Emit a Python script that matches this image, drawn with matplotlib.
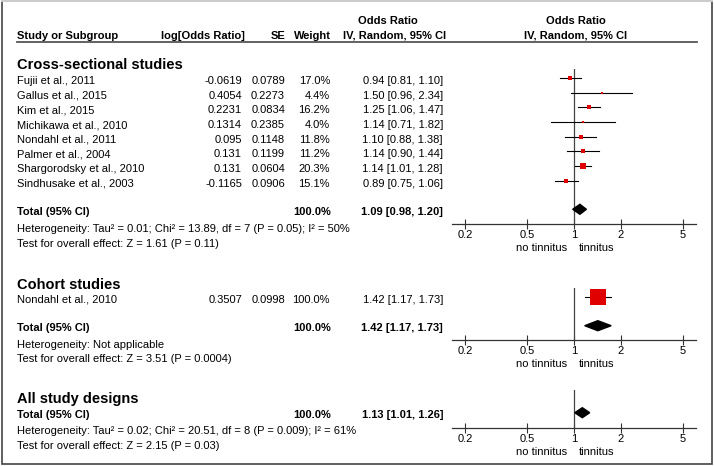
import matplotlib.pyplot as plt
from matplotlib.patches import Polygon, Rectangle

plt.rcParams['font.family'] = ['Liberation Sans', 'DejaVu Sans']

# cross-sectional studies
cs_studies = ["Fujii et al., 2011", "Gallus et al., 2015", "Kim et al., 2015",
              "Michikawa et al., 2010", "Nondahl et al., 2011", "Palmer et al., 2004",
              "Shargorodsky et al., 2010", "Sindhusake et al., 2003"]
cs_log_or = ["-0.0619", "0.4054", "0.2231", "0.1314", "0.095", "0.131", "0.131", "-0.1165"]
cs_se = ["0.0789", "0.2273", "0.0834", "0.2385", "0.1148", "0.1199", "0.0604", "0.0906"]
cs_weight = [17.0, 4.4, 16.2, 4.0, 11.8, 11.2, 20.3, 15.1]
cs_or = [0.94, 1.50, 1.25, 1.14, 1.10, 1.14, 1.14, 0.89]
cs_lo = [0.81, 0.96, 1.06, 0.71, 0.88, 0.90, 1.01, 0.75]
cs_hi = [1.10, 2.34, 1.47, 1.82, 1.38, 1.44, 1.28, 1.06]
cs_total = [1.09, 0.98, 1.20]

# cohort studies
co_studies = ["Nondahl et al., 2010"]
co_log_or = ["0.3507"]
co_se = ["0.0998"]
co_weight = [100.0]
co_or = [1.42]
co_lo = [1.17]
co_hi = [1.73]
co_total = [1.42, 1.17, 1.73]

# all designs
all_total = [1.13, 1.01, 1.26]

het_text = ["Heterogeneity: Tau\u00b2 = 0.01; Chi\u00b2 = 13.89, df = 7 (P = 0.05); I\u00b2 = 50%",
            "Heterogeneity: Not applicable",
            "Heterogeneity: Tau\u00b2 = 0.02; Chi\u00b2 = 20.51, df = 8 (P = 0.009); I\u00b2 = 61%"]
effect_text = ["Test for overall effect: Z = 1.61 (P = 0.11)",
               "Test for overall effect: Z = 3.51 (P = 0.0004)",
               "Test for overall effect: Z = 2.15 (P = 0.03)"]

ticks = [0.2, 0.5, 1, 2, 5]
tick_labels = ["0.2", "0.5", "1", "2", "5"]

W, H = 714, 466
RED = '#e00000'
fig = plt.figure(figsize=(W / 100, H / 100), dpi=100)
bg = fig.add_axes([0, 0, 1, 1])
bg.set_xlim(0, W)
bg.set_ylim(H, 0)
bg.axis('off')


def txt(x, y, s, size=8, bold=False, ha='left'):
    off = 0.716 * size * 100 / 72 / 2
    bg.text(x, y + off, s, fontsize=size, fontweight='bold' if bold else 'normal',
            ha=ha, va='baseline')


def ci_str(est, lo, hi):
    return f"{est:.2f} [{lo:.2f}, {hi:.2f}]"


def panel(top, axis_y):
    ax = fig.add_axes([452 / W, 1 - axis_y / H, (696 - 452) / W, (axis_y - top) / H])
    ax.set_xscale('log')
    ax.set_xlim(0.165, 6.05)
    ax.set_ylim(axis_y, top)
    for s in ['top', 'left', 'right']:
        ax.spines[s].set_visible(False)
    ax.spines['bottom'].set_linewidth(0.9)
    ax.spines['bottom'].set_color('#333333')
    ax.set_xticks(ticks)
    ax.set_xticklabels(tick_labels)
    ax.minorticks_off()
    ax.tick_params(axis='x', direction='inout', length=6.5, width=0.8,
                   labelsize=8, pad=1, color='#333333')
    ax.set_yticks([])
    ax.axvline(1, color='#444444', lw=0.9)
    ax.patch.set_alpha(0)
    txt(566.7, axis_y + 23, "no tinnitus", ha='right')
    txt(579, axis_y + 23, "tinnitus")
    return ax


def study(ax, y, est, lo, hi, w):
    side = max(2.0, 16.7 * (w / 100) ** 0.75)
    ax.plot([lo, hi], [y, y], color='black', lw=0.8, zorder=2)
    ax.plot(est, y, 's', color=RED, ms=side * 0.72, mew=0, zorder=3)


def diamond(ax, y, est, lo, hi):
    ax.add_patch(Polygon([(lo, y), (est, y - 5), (hi, y), (est, y + 5)],
                         closed=True, color='black', zorder=3))


# header
txt(387.5, 20, "Odds Ratio", bold=True, ha='center')
txt(575.5, 20, "Odds Ratio", bold=True, ha='center')
txt(17, 35, "Study or Subgroup", bold=True)
txt(245, 35, "log[Odds Ratio]", bold=True, ha='right')
txt(285.7, 35, "SE", bold=True, ha='right')
txt(331, 35, "Weight", bold=True, ha='right')
txt(395, 35, "IV, Random, 95% CI", bold=True, ha='center')
txt(575.5, 35, "IV, Random, 95% CI", bold=True, ha='center')
bg.plot([17, 697], [41.5, 41.5], color='#555555', lw=1.3)

# cross-sectional section
txt(17, 63.3, "Cross-sectional studies", size=10.5, bold=True)
ax1 = panel(69, 224)
for i, name in enumerate(cs_studies):
    y = 80 + i * 14.7
    txt(17, y, name)
    txt(242, y, cs_log_or[i], ha='right')
    txt(285, y, cs_se[i], ha='right')
    txt(330, y, f"{cs_weight[i]:.1f}%", ha='right')
    txt(443, y, ci_str(cs_or[i], cs_lo[i], cs_hi[i]), ha='right')
    study(ax1, y - 2, cs_or[i], cs_lo[i], cs_hi[i], cs_weight[i])
txt(17, 211, "Total (95% CI)", bold=True)
txt(331, 211, "100.0%", bold=True, ha='right')
txt(443, 211, ci_str(*cs_total), bold=True, ha='right')
diamond(ax1, 209.3, *cs_total)
txt(17, 228, het_text[0])
txt(17, 243, effect_text[0])

# cohort section
txt(17, 283.3, "Cohort studies", size=10.5, bold=True)
ax2 = panel(288, 340)
for i, name in enumerate(co_studies):
    y = 299 + i * 14.7
    txt(17, y, name)
    txt(242, y, co_log_or[i], ha='right')
    txt(285, y, co_se[i], ha='right')
    txt(330, y, f"{co_weight[i]:.1f}%", ha='right')
    txt(443, y, ci_str(co_or[i], co_lo[i], co_hi[i]), ha='right')
    study(ax2, y - 2.3, co_or[i], co_lo[i], co_hi[i], co_weight[i])
txt(17, 327, "Total (95% CI)", bold=True)
txt(331, 327, "100.0%", bold=True, ha='right')
txt(443, 327, ci_str(*co_total), bold=True, ha='right')
diamond(ax2, 325.7, *co_total)
txt(17, 344, het_text[1])
txt(17, 358, effect_text[1])

# all designs
txt(17, 397.3, "All study designs", size=10.5, bold=True)
ax3 = panel(390, 428)
txt(17, 414, "Total (95% CI)", bold=True)
txt(331, 414, "100.0%", bold=True, ha='right')
txt(443, 414, ci_str(*all_total), bold=True, ha='right')
diamond(ax3, 412.7, *all_total)
txt(17, 430, het_text[2])
txt(17, 445, effect_text[2])

# frame
bg.add_patch(Rectangle((1.5, 0.8), 710.5, 463, fill=False, edgecolor='#444444', lw=1.2))
bg.plot([1.5, 712], [0.8, 0.8], color='#d8d8d8', lw=1.3)

fig.savefig('out.png', dpi=100)
